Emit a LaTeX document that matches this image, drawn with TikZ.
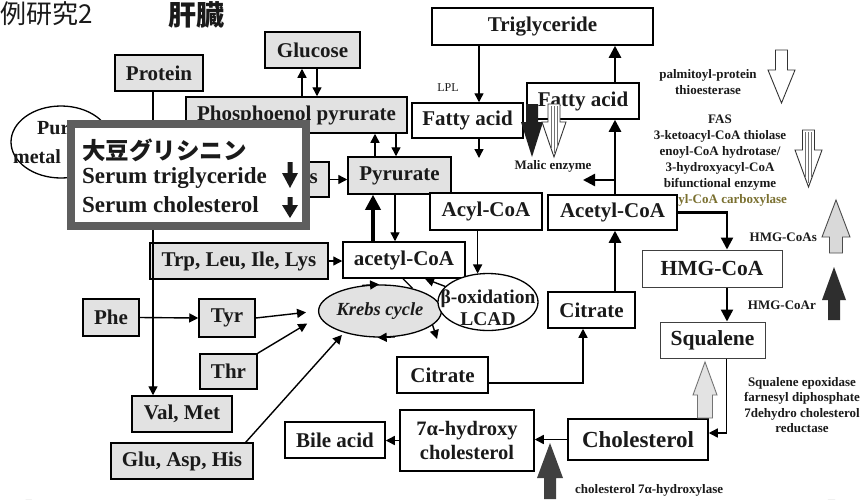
\documentclass[tikz,border=0pt]{standalone}
\usepackage{fontspec}
\setmainfont{Liberation Serif}
\newfontfamily\jp{Noto Sans CJK JP}
\usetikzlibrary{arrows.meta,shapes.geometric}
\pgfdeclarelayer{bg}
\pgfsetlayers{bg,main}
\definecolor{gfill}{HTML}{E2E2E2}
\definecolor{ovgray}{HTML}{5E5E5E}
\definecolor{olivetxt}{HTML}{7A7030}
\definecolor{txt}{HTML}{1A1A1A}
% #1 style, #2 cx, #3 shaft half, #4 head half, #5 y end of shaft, #6 y head base, #7 y tip
\newcommand\blkarrow[7]{\path[#1] (#2-#3,#5) -- (#2+#3,#5) -- (#2+#3,#6) -- (#2+#4,#6) -- (#2,#7) -- (#2-#4,#6) -- (#2-#3,#6) -- cycle;}
\tikzset{
 bx/.style={draw=black, line width=1.5pt, inner sep=0pt, text=txt, font=\bfseries\fontsize{21}{23}\selectfont},
 gbx/.style={bx, fill=gfill},
 wbx/.style={bx, fill=white},
 tbx/.style={bx, draw=black!75, line width=1pt, fill=white, font=\bfseries\fontsize{21.5}{23}\selectfont},
 ell/.style={draw=black, line width=1.3pt, ellipse, inner sep=0pt, text=txt},
 arr/.style={line width=1.4pt, -{Triangle[length=9pt,width=9pt]}},
 arrb/.style={line width=2.4pt, -{Triangle[length=12pt,width=12pt]}},
 sml/.style={font=\bfseries\fontsize{13}{16}\selectfont, inner sep=0pt, text=txt},
 plainln/.style={line width=1.3pt},
}
\begin{document}
\begin{tikzpicture}[x=1pt,y=-1pt]
\useasboundingbox (0,0) rectangle (862,499);
\fill[white] (0,0) rectangle (862,499);

% title
\node[anchor=west, inner sep=0pt, font=\jp\fontsize{26}{28}\selectfont, text=txt] (title1) at (0,14) {例研究2};
\node[anchor=west, inner sep=0pt, font=\jp\bfseries\fontsize{28}{30}\selectfont, text=txt] (title2) at (168,15) {肝臓};

% nodes
\node[gbx, minimum width=88pt, minimum height=36pt] (protein) at (159,73) {Protein};
\node[gbx, minimum width=95pt, minimum height=36pt] (glucose) at (312.5,50) {Glucose};
\node[gbx, minimum width=221pt, minimum height=36pt] (phos) at (296.5,115) {Phosphoenol pyrurate};
\node[ell, fill=white, minimum width=100pt, minimum height=72pt] (pur) at (61,142) {};
\node[anchor=west, inner sep=0pt, font=\bfseries\fontsize{20}{22}\selectfont, text=txt] (purA) at (37,128) {Pur};
\node[anchor=west, inner sep=0pt, font=\bfseries\fontsize{20}{22}\selectfont, text=txt] (purB) at (13,157) {metal};
\node[gbx, minimum width=99pt, minimum height=35pt] (sbox) at (279.5,179.5) {};
\node[anchor=east, inner sep=0pt, font=\bfseries\fontsize{21}{23}\selectfont, text=txt] (stxt) at (318,179) {s};
\node[gbx, minimum width=103pt, minimum height=37pt] (pyr) at (399.5,175.5) {Pyrurate};
\node[wbx, minimum width=112pt, minimum height=37pt] (acyl) at (486,211.5) {Acyl-CoA};
\node[gbx, minimum width=178pt, minimum height=36pt] (trp) at (239,261) {Trp, Leu, Ile, Lys};
\node[wbx, minimum width=122pt, minimum height=36pt] (acetyl) at (404,260) {acetyl-CoA};
\node[ell, fill=gfill, minimum width=104pt, minimum height=52pt, font=\bfseries\itshape\fontsize{18.5}{20}\selectfont] (krebs) at (380,311) {Krebs cycle};
\node[ell, fill=white, minimum width=100pt, minimum height=57pt] (beta) at (488,302) {};
\node[align=center, inner sep=0pt, text=txt, font=\bfseries\fontsize{19.5}{22}\selectfont] (betatxt) at (488,308) {β-oxidation\\LCAD};
\node[gbx, minimum width=56pt, minimum height=37pt] (phe) at (111,317.5) {Phe};
\node[gbx, minimum width=56pt, minimum height=38pt] (tyr) at (227,318) {Tyr};
\node[gbx, minimum width=57pt, minimum height=35pt] (thr) at (228.5,371.5) {Thr};
\node[gbx, minimum width=100pt, minimum height=36pt] (valmet) at (182,414) {Val, Met};
\node[gbx, minimum width=142pt, minimum height=36pt] (glu) at (182,461) {Glu, Asp, His};

\node[sml, align=center] (fas) at (720,161) {FAS\\3-ketoacyl-CoA thiolase\\enoyl-CoA hydrotase/\\3-hydroxyacyl-CoA\\bifunctional enzyme\\\textcolor{olivetxt}{Acetyl-CoA carboxylase}};

\node[wbx, minimum width=221pt, minimum height=37pt] (trig) at (542.5,26.5) {Triglyceride};
\node[wbx, minimum width=111pt, minimum height=35pt] (fa1) at (467.5,120.5) {Fatty acid};
\node[wbx, minimum width=112pt, minimum height=36pt] (fa2) at (583,101) {Fatty acid};
\node[wbx, minimum width=129pt, minimum height=35pt] (acetylR) at (612.5,212.5) {Acetyl-CoA};
\node[wbx, minimum width=87pt, minimum height=36pt] (citR) at (591.5,310) {Citrate};
\node[wbx, minimum width=91pt, minimum height=36pt] (citB) at (442.5,375) {Citrate};
\node[tbx, minimum width=140pt, minimum height=37pt] (hmg) at (712,268.5) {HMG-CoA};
\node[tbx, minimum width=105pt, minimum height=36pt] (squal) at (712.5,340) {Squalene};
\node[wbx, minimum width=140pt, minimum height=41pt, font=\bfseries\fontsize{23}{25}\selectfont] (chol) at (638,439.5) {Cholesterol};
\node[wbx, minimum width=134pt, minimum height=61pt, align=center, font=\bfseries\fontsize{20.5}{24}\selectfont] (h7) at (467,440.5) {7α-hydroxy\\cholesterol};
\node[wbx, minimum width=100pt, minimum height=36pt] (bile) at (335,440) {Bile acid};

% background layer: faint arcs and hidden lines
\begin{pgfonlayer}{bg}
\draw[gray!16, line width=7pt] (730,-4) .. controls (800,25) and (845,90) .. (866,165);
\draw[gray!12, line width=7pt] (866,300) .. controls (858,390) and (848,440) .. (830,505);
\draw[gray!10, line width=6pt] (-4,230) .. controls (1,330) and (12,430) .. (30,505);
\draw[arr] ([xshift=-31pt]protein.south) -- ([xshift=-12pt]phe.north);
\draw[arr] ([xshift=1pt]protein.south) -- ([xshift=-47pt]trp.north);
\draw[plainln] ([xshift=13pt]protein.south) -- (phos.west);
\draw[plainln] (pur.-50) -- (trp.north west);
\draw[arr, shorten >=8pt] (valmet.north east) -- (krebs.198);
\end{pgfonlayer}

% connectors
\draw[arr] ([xshift=-6pt]protein.south) -- ([xshift=-29pt]valmet.north);
\draw[arr] ([xshift=5.5pt]phos.north) -- ([xshift=5.5pt]phos.north |- glucose.south);
\draw[arr] ([xshift=20.5pt]phos.north |- glucose.south) -- ([xshift=20.5pt]phos.north);
\draw[arr] ([xshift=-24.5pt]pyr.north) -- ([xshift=-24.5pt]pyr.north |- phos.south);
\draw[arr] ([xshift=-3.5pt]pyr.north |- phos.south) -- ([xshift=-3.5pt]pyr.north);
\draw[arr] (sbox.east) -- (sbox.east -| pyr.west);
\draw[line width=3.4pt, -{Triangle[length=15pt,width=15pt]}] ([xshift=-31pt]acetyl.north) -- ([xshift=-31pt]acetyl.north |- pyr.south);
\draw[arr] ([xshift=-9pt]acetyl.north |- pyr.south) -- ([xshift=-9pt]acetyl.north);
\draw[arr] (trp.east) -- (trp.east -| acetyl.west);
\draw[arr] (beta.110 |- acyl.south) -- (beta.110);
\draw[arr] (beta.160) -- ([xshift=21pt]acetyl.south);
\draw[plainln] ([xshift=-1pt]acetyl.south) -- (krebs.35);
\draw[arr] (krebs.125) -- (krebs.92);
\draw[arr] (krebs.-60) -- (krebs.-95);
\coordinate (kout) at (437,339);
\draw[arr] (krebs.-15) -- (kout);
\draw[arr, shorten >=12pt] (tyr.east) -- (krebs.180);
\draw[arr, shorten >=14pt] (thr.north east) -- (krebs.185);
\draw[arr, shorten >=3pt] ([xshift=-8pt]glu.north east) -- (krebs.211);
\draw[arr] (phe.east) -- (tyr.west);

\draw[arr] ([xshift=11.5pt]fa1.north |- trig.south) -- ([xshift=11.5pt]fa1.north);
\coordinate (fadown) at (479,158);
\draw[arr] ([xshift=11.5pt]fa1.south) -- (fadown);
\draw[arrb] ([xshift=2.5pt]acetylR.north) -- ([xshift=2.5pt]acetylR.north |- fa2.south);
\draw[arrb] ([xshift=32pt]fa2.north) -- ([xshift=32pt]fa2.north |- trig.south);
\coordinate (malicpt) at (583,180);
\draw[arrb] ([xshift=2.5pt]acetylR.north |- malicpt) -- (malicpt);
\draw[arrb] ([xshift=23.5pt]citR.north) -- ([xshift=23.5pt]citR.north |- acetylR.south);
\draw[arr] ([yshift=-8pt]citB.east) -| ([xshift=-8.5pt]citR.south);
\draw[arrb] (acetylR.east) -| ([xshift=15pt]hmg.north);
\draw[arrb] ([xshift=15pt]hmg.south) -- ([xshift=15pt]hmg.south |- squal.north);
\draw[arr] ([xshift=14pt]squal.south) |- ([yshift=6.5pt]chol.east);
\draw[arr] (chol.west) -- (chol.west -| h7.east);
\draw[arr] (h7.west) -- (h7.west -| bile.east);

% block arrows
\blkarrow{fill=black!88}{532}{6}{11}{104}{122}{157}
\blkarrow{fill=white, draw=black!80, line width=0.9pt}{554}{6}{12}{104}{122}{157}
\draw[black!55, line width=0.5pt] (551,106) -- (551,148) (554,106) -- (554,153) (557,106) -- (557,148);
\blkarrow{fill=white, draw=black!80, line width=0.9pt}{781.5}{6}{13.5}{50}{70}{103}
\blkarrow{fill=white, draw=black!80, line width=0.9pt}{808.5}{6}{13.5}{130}{150}{187}
\draw[black!55, line width=0.5pt] (805.5,132) -- (805.5,177) (808.5,132) -- (808.5,183) (811.5,132) -- (811.5,177);
\blkarrow{fill=gray!30, draw=black!70, line width=0.9pt}{836}{6.5}{14}{253}{237}{200}
\blkarrow{fill=black!82}{834}{6}{12}{320}{300}{267}
\blkarrow{fill=gray!22, draw=black!55, line width=0.9pt}{705}{7.5}{12}{418}{395}{362}
\blkarrow{fill=black!75}{550}{6}{13}{499}{478}{443}

% labels
\node[inner sep=0pt, text=txt, font=\fontsize{12}{14}\selectfont] (lpl) at (448,88) {LPL};
\node[sml] (malic) at (553,166) {Malic enzyme};
\node[sml, align=center] (palm) at (708,82.5) {palmitoyl-protein\\thioesterase};
\node[sml, anchor=east] (hmgs) at (817,237) {HMG-CoAs};
\node[sml, anchor=east] (hmgr) at (816,305) {HMG-CoAr};
\node[sml, align=center, font=\bfseries\fontsize{13}{15.5}\selectfont] (sqe) at (802,405) {Squalene epoxidase\\farnesyl diphosphate\\7dehydro cholesterol\\reductase};
\node[sml, anchor=west] (c7) at (575,490) {cholesterol 7α-hydroxylase};

% overlay box
\node[draw=ovgray, line width=8pt, fill=white, minimum width=235pt, minimum height=102pt, inner sep=0pt] (ov) at (188.5,175) {};
\node[anchor=west, inner sep=0pt, text=txt, font=\jp\bfseries\fontsize{23.5}{26}\selectfont] (ovjp) at (82,150) {大豆グリシニン};
\node[anchor=base west, inner sep=0pt, text=txt, font=\bfseries\fontsize{23}{25}\selectfont] (ovtg) at (82,183) {Serum triglyceride};
\node[anchor=base west, inner sep=0pt, text=txt, font=\bfseries\fontsize{23}{25}\selectfont] (ovch) at (82,212) {Serum cholesterol};
\blkarrow{fill=txt}{290}{2.5}{8}{162}{173}{188}
\blkarrow{fill=txt}{290}{2.5}{8}{197}{205}{218}
\end{tikzpicture}
\end{document}
